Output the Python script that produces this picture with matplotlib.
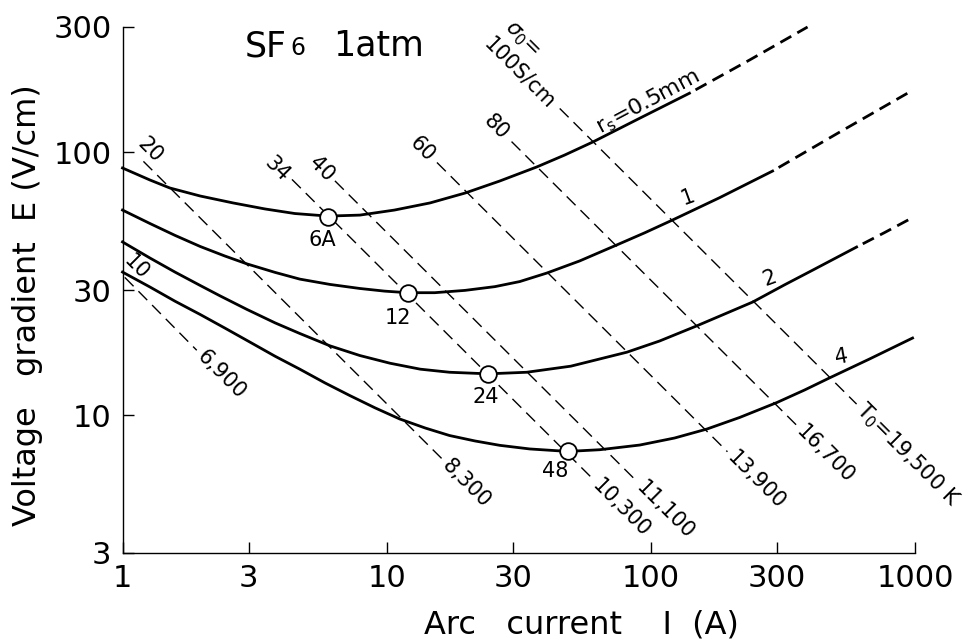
import numpy as np
import matplotlib.pyplot as plt

plt.rcParams['font.family'] = ['DejaVu Sans']

# ── E-I characteristics for each arc radius r_s (solid part) ──
I_r05 = [1, 1.27, 1.51, 1.97, 2.62, 3.46, 4.49, 6.0, 7.92, 10.7, 14.6, 19.8,
         26.8, 37.0, 47.2, 60.3, 90.8, 140]
E_r05 = [87.3, 78.6, 73.3, 68.3, 64.3, 61.0, 58.6, 57.3, 57.8, 60.4, 64.3, 70.1,
         77.9, 88.1, 97.8, 109.6, 135, 168]

I_r1 = [1, 1.27, 1.58, 1.97, 2.44, 2.96, 3.78, 4.69, 6.10, 7.92, 9.84, 12.0,
        15.2, 19.8, 25.7, 31.9, 40.4, 53.8, 74.3, 94.8, 121, 182, 289]
E_r1 = [60.4, 53.7, 48.4, 43.9, 40.4, 37.7, 35.0, 33.0, 31.5, 30.4, 29.7, 29.3,
        29.3, 29.9, 30.9, 32.3, 34.8, 38.7, 44.5, 49.5, 55.4, 67.3, 85.0]

I_r2 = [1, 1.27, 1.58, 1.97, 2.34, 2.96, 3.78, 4.69, 6.10, 7.92, 10.3, 13.4,
        17.3, 24.2, 33.9, 49.8, 81.1, 108, 149, 190, 243, 321, 410, 601]
E_r2 = [45.7, 39.7, 35.1, 31.2, 28.5, 25.3, 22.5, 20.5, 18.4, 16.9, 15.8, 15.0,
        14.6, 14.4, 14.6, 15.4, 17.4, 19.2, 21.9, 24.3, 27.0, 31.4, 35.7, 43.7]

I_r4 = [1, 1.27, 1.58, 1.97, 2.44, 3.04, 3.78, 4.69, 5.84, 7.26, 9.02, 11.2,
        14.0, 17.3, 21.6, 26.8, 34.8, 48.5, 64.1, 90.8, 123, 163, 217, 300,
        382, 475, 673, 979]
E_r4 = [35.1, 30.8, 27.2, 24.2, 21.5, 19.0, 16.8, 15.0, 13.3, 11.9, 10.7, 9.70,
        8.96, 8.39, 8.00, 7.70, 7.46, 7.30, 7.41, 7.72, 8.21, 8.88, 9.83, 11.2,
        12.5, 13.9, 16.4, 19.7]

# dashed (extrapolated) continuations
I_r05_ext = [140, 237, 392]
E_r05_ext = [168, 225, 300]
I_r1_ext = [289, 519, 954]
E_r1_ext = [85.0, 119.6, 169.8]
I_r2_ext = [601, 767, 971]
E_r2_ext = [43.7, 49.6, 56.3]

# minimum-voltage points
I_min = [6, 12, 24.2, 48.5]
E_min = [57, 29.3, 14.4, 7.3]
min_labels = ['6A', '12', '24', '48']

# constant sigma_0 / T_0 lines (end points)
sig_labels = ['10', '20', '34', '40', '60', '80', '100S/cm']
T_labels = ['6,900', '8,300', '10,300', '11,100', '13,900', '16,700',
            r'T$_0$=19,500 K']
I_beg = [1.02, 1.2, 4.38, 6.37, 15.5, 29.7, 45.2]
E_beg = [33.5, 92.5, 79.0, 78.0, 91.6, 110, 147]
I_fin = [1.91, 16.3, 60.3, 88.5, 195, 356, 601]
E_fin = [17.7, 6.8, 5.74, 5.62, 7.28, 9.19, 11.05]

# ── figure ───────────────────────────────────────────────────────
fig = plt.figure(figsize=(9.63, 6.4), dpi=100)
ax = fig.add_axes([122.5 / 963, 1 - 553 / 640, 792.5 / 963, 526 / 640])
ax.set_xscale('log'); ax.set_yscale('log')
ax.set_xlim(1, 1000); ax.set_ylim(3, 300)

for s in ['top', 'right']:
    ax.spines[s].set_visible(False)
for s in ['left', 'bottom']:
    ax.spines[s].set_linewidth(1.0)

ax.set_xticks([1, 3, 10, 30, 100, 300, 1000])
ax.set_xticklabels(['1', '3', '10', '30', '100', '300', '1000'])
ax.set_yticks([3, 10, 30, 100, 300])
ax.set_yticklabels(['3', '10', '30', '100', '300'])
ax.minorticks_off()
ax.tick_params(direction='in', length=8, width=1, labelsize=22, pad=8)

# characteristic curves
for I, E in [(I_r05, E_r05), (I_r1, E_r1), (I_r2, E_r2), (I_r4, E_r4)]:
    ax.plot(I, E, color='k', lw=2.0, clip_on=False, solid_joinstyle='round')
for I, E in [(I_r05_ext, E_r05_ext), (I_r1_ext, E_r1_ext), (I_r2_ext, E_r2_ext)]:
    ax.plot(I, E, color='k', lw=2.0, ls=(4.5, (4.5, 2.5)), clip_on=False)

# constant sigma / temperature lines
top_off = [(12, 10), (7, 11), (-15, 10), (-13, 12), (-15, 13), (-15, 15), (-40, 35)]
for k in range(len(sig_labels)):
    ax.plot([I_beg[k], I_fin[k]], [E_beg[k], E_fin[k]], color='k', lw=1.0,
            ls=(0, (9, 5)), clip_on=False)
    ax.annotate(sig_labels[k], xy=(I_beg[k], E_beg[k]), xytext=top_off[k],
                textcoords='offset pixels', ha='center', va='center',
                rotation=-45, fontsize=15)
    ax.annotate(T_labels[k], xy=(I_fin[k], E_fin[k]), xytext=(3, -3),
                textcoords='offset pixels', ha='left', va='center',
                rotation=-45, rotation_mode='anchor', fontsize=15)
ax.annotate(r'$\sigma_0$=', xy=(I_beg[-1], E_beg[-1]), xytext=(-38, 69),
            textcoords='offset pixels', ha='center', va='center',
            rotation=-45, fontsize=15)

# minimum points
ax.plot(I_min, E_min, 'o', ms=12, mfc='white', mec='k', mew=1.3,
        clip_on=False, zorder=5)
min_off = [(-6, -23), (-10, -25), (-2, -23), (-13, -20)]
for x, y, lab, off in zip(I_min, E_min, min_labels, min_off):
    ax.annotate(lab, xy=(x, y), xytext=off, textcoords='offset pixels',
                ha='center', va='center', fontsize=15)

# curve labels
ax.text(97.3, 155.6, r'r$_\mathrm{s}$=0.5mm', rotation=28, ha='center',
        va='center', rotation_mode='anchor', fontsize=16)
ax.text(138, 67.7, '1', rotation=20, ha='center', va='center', fontsize=15)
ax.text(282, 33.3, '2', rotation=20, ha='center', va='center', fontsize=15)
ax.text(528, 16.7, '4', rotation=10, ha='center', va='center', fontsize=15)

# gas label
ax.text(0.1546, 0.943, 'SF', transform=ax.transAxes, fontsize=25, va='baseline')
ax.text(0.2115, 0.947, '6', transform=ax.transAxes, fontsize=17, va='baseline')
ax.text(0.2656, 0.945, '1atm', transform=ax.transAxes, fontsize=25, va='baseline')

# axis titles
fig.text(0.029, 0.523, 'Voltage   gradient  E (V/cm)', rotation=90,
         ha='center', va='center', fontsize=23)
fig.text(0.604, 0.023, 'Arc   current    I  (A)', ha='center', va='center',
         fontsize=23)

fig.savefig('out.png', dpi=100)
